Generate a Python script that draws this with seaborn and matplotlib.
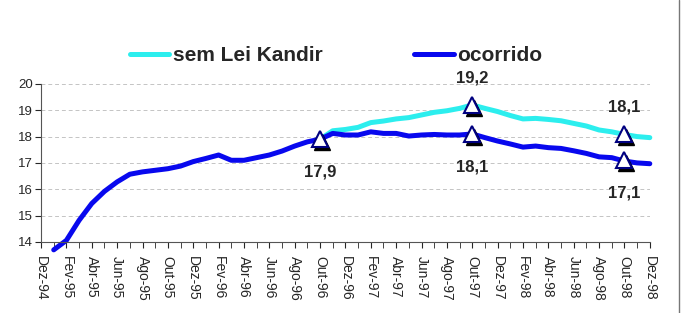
import numpy as np
import pandas as pd
import seaborn as sns
import matplotlib.pyplot as plt
import matplotlib.transforms as mtransforms
from matplotlib.lines import Line2D

meses = ['Dez', 'Jan', 'Fev', 'Mar', 'Abr', 'Mai', 'Jun', 'Jul', 'Ago', 'Set', 'Out', 'Nov']
categorias = ['Dez-94'] + [f'{meses[(i % 12)]}-{95 + (i - 1) // 12}' for i in range(1, 49)]

ocorrido = [np.nan, 13.7, 14.06, 14.82, 15.46, 15.92, 16.28, 16.57, 16.66, 16.72, 16.78, 16.88,
            17.05, 17.17, 17.30, 17.10, 17.10, 17.20, 17.30, 17.45, 17.64, 17.80, 17.90,
            18.12, 18.06, 18.06, 18.18, 18.12, 18.12, 18.02, 18.06, 18.08, 18.06, 18.06, 18.10,
            17.96, 17.83, 17.72, 17.60, 17.64, 17.58, 17.55, 17.46, 17.36, 17.23, 17.20, 17.07,
            17.00, 16.97]
sem_lei = [np.nan] * 22 + [17.90,
           18.22, 18.27, 18.35, 18.53, 18.59, 18.67, 18.72, 18.82, 18.92, 18.98, 19.07, 19.20,
           19.07, 18.95, 18.80, 18.67, 18.69, 18.65, 18.60, 18.50, 18.40, 18.25, 18.18, 18.08,
           18.00, 17.96]

destaques = [(22, 17.9, '17,9', 'below'),
             (34, 19.2, '19,2', 'above'),
             (34, 18.1, '18,1', 'below'),
             (46, 18.1, '18,1', 'above'),
             (46, 17.1, '17,1', 'below')]

df = pd.DataFrame({'mes': np.arange(len(categorias)), 'ocorrido': ocorrido, 'sem Lei Kandir': sem_lei})

sns.set_style('white')
plt.rcParams['font.family'] = ['Liberation Sans', 'DejaVu Sans']
fig = plt.figure(figsize=(6.84, 3.13), dpi=100)
ax = fig.add_axes([0.060, 0.227, 0.890, 0.505])

ciano = '#2CEEEE'
azul = '#0808EE'
sns.lineplot(data=df, x='mes', y='sem Lei Kandir', color=ciano, lw=3.6, ax=ax)
sns.lineplot(data=df, x='mes', y='ocorrido', color=azul, lw=3.6, ax=ax)
for ln in ax.get_lines():
    ln.set_clip_on(False)

# triangulos com sombra
sombra = mtransforms.offset_copy(ax.transData, fig=fig, x=2, y=-3, units='dots')
for x, y, txt, pos in destaques:
    ax.plot(x, y, marker='^', ms=11, color='black', transform=sombra, zorder=4, clip_on=False)
    ax.plot(x, y, marker='^', ms=11, mfc='white', mec='#000080', mew=1.5, zorder=5, clip_on=False)
    dy = 19.5 if pos == 'above' else -23.5
    ax.annotate(txt, (x, y), xytext=(0, dy), textcoords='offset points', ha='center',
                va='center', fontsize=12, fontweight='bold')

ax.set_xlim(0, 48)
ax.set_ylim(14, 20)
ax.set_yticks(range(14, 21))
ax.set_xticks(range(0, 49, 2))
ax.set_xticklabels(categorias[::2], rotation=-90, fontsize=10)
ax.set_xticks(range(0, 49), minor=True)
ax.tick_params(axis='y', labelsize=9.5, length=4, direction='out', left=True, pad=2)
ax.tick_params(axis='x', which='both', length=4, direction='out', bottom=True, pad=6)
ax.set_xlabel('')
ax.set_ylabel('')
ax.grid(axis='y', color='#c4c4c4', ls=(0, (4, 3)), lw=0.7)
ax.set_axisbelow(True)
for s in ['top', 'right']:
    ax.spines[s].set_visible(False)
for s in ['left', 'bottom']:
    ax.spines[s].set_color('#555555')
    ax.spines[s].set_linewidth(0.8)

handles = [Line2D([], [], color=ciano, lw=3.6), Line2D([], [], color=azul, lw=3.6)]
fig.legend(handles, ['sem Lei Kandir', 'ocorrido'], loc='center', bbox_to_anchor=(0.491, 0.823),
           ncol=2, frameon=False, columnspacing=4.4, handlelength=1.9, handletextpad=0.15,
           borderpad=0, prop={'weight': 'bold', 'size': 15})

fig.add_artist(Line2D([0.993, 0.993], [0, 1], transform=fig.transFigure, color='#777777', lw=1))

fig.savefig('out.png', dpi=100)
